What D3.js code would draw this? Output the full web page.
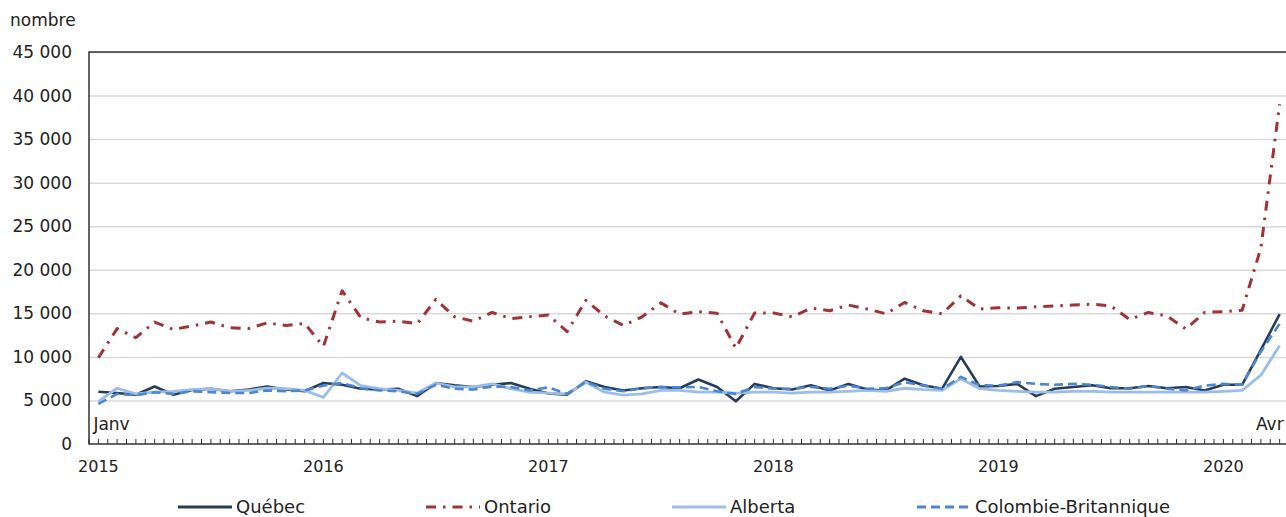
<!DOCTYPE html>
<html>
<head>
<meta charset="utf-8">
<script src="https://cdn.jsdelivr.net/npm/d3@7"></script>
<style>
  body { margin: 0; background: #fff; }
  svg text { font-family: Verdana, "DejaVu Sans", sans-serif; fill: #222; }
</style>
</head>
<body>
<svg id="chart" width="1286" height="517"></svg>
<script>
const years = ['2015', '2016', '2017', '2018', '2019', '2020'];
const monthCount = 64;   // janv 2015 .. avr 2020
const yTicks = [0, 5000, 10000, 15000, 20000, 25000, 30000, 35000, 40000, 45000];

const quebec = [
  6000, 5850, 5650, 6600, 5650, 6200, 6350, 6050, 6250, 6600, 6250, 6050,
  7000, 6800, 6350, 6250, 6350, 5500, 7000, 6750, 6550, 6800, 7000, 6350,
  5800, 5650, 7200, 6550, 6150, 6400, 6550, 6400, 7400, 6550, 4900, 6900,
  6400, 6250, 6750, 6150, 6900, 6250, 6150, 7500, 6750, 6350, 10000, 6600,
  6650, 6900, 5500, 6350, 6550, 6750, 6400, 6400, 6650, 6400, 6550, 6150,
  6800, 6800, 10800, 14900
];
const ontario = [
  9900, 13250, 12200, 14000, 13150, 13550, 14000, 13350, 13250, 13900, 13600, 13850,
  11200, 17600, 14500, 14000, 14100, 13800, 16600, 14600, 14100, 15100, 14400, 14600,
  14800, 12900, 16500, 14700, 13600, 14600, 16200, 14900, 15200, 15000, 11000, 15050,
  15050, 14600, 15600, 15300, 15950, 15500, 14950, 16250, 15300, 14950, 17000, 15500,
  15650, 15600, 15750, 15850, 15950, 16050, 15850, 14300, 15100, 14700, 13200, 15100,
  15200, 15350, 22500, 39000
];
const alberta = [
  4900, 6400, 5750, 5950, 6050, 6250, 6350, 6050, 6150, 6400, 6350, 6150,
  5350, 8150, 6700, 6350, 6150, 5850, 7000, 6550, 6550, 6900, 6350, 5950,
  5850, 5750, 7100, 5950, 5600, 5750, 6150, 6150, 5950, 5950, 5850, 5950,
  5950, 5850, 5950, 5950, 6050, 6150, 6050, 6400, 6250, 6150, 7500, 6350,
  6150, 6050, 5950, 5950, 6050, 6050, 5950, 5950, 5950, 5950, 5950, 5950,
  6050, 6150, 7900, 11300
];
const colombie = [
  4600, 5750, 5600, 5950, 5750, 6050, 5950, 5850, 5850, 6150, 6050, 6150,
  6700, 7000, 6400, 6150, 6050, 5750, 6800, 6350, 6250, 6600, 6550, 6150,
  6500, 5750, 7100, 6350, 6050, 6400, 6550, 6500, 6550, 6050, 5750, 6550,
  6350, 6350, 6550, 6350, 6700, 6350, 6400, 7100, 6700, 6350, 7700, 6750,
  6700, 7100, 6900, 6800, 6900, 6800, 6550, 6350, 6650, 6350, 6150, 6700,
  6900, 6800, 10600, 13800
];

const series = [
  { name: 'Québec', values: quebec, color: '#253d5b', width: 2.6, dash: null, legendX: 178 },
  { name: 'Ontario', values: ontario, color: '#a03336', width: 3, dash: '10,7,2.5,7', legendX: 426 },
  { name: 'Alberta', values: alberta, color: '#9cbde6', width: 2.8, dash: null, legendX: 672 },
  { name: 'Colombie-Britannique', values: colombie, color: '#4a86d4', width: 2.6, dash: '9,5', legendX: 917 }
];

const margin = { left: 89, top: 52, bottom: 444, right: 1289 };

// categories: index of each month
const months = d3.range(monthCount);

const svg = d3.select('#chart');

const x = d3.scaleBand()
            .domain(months)
            .range([margin.left, margin.right]);
const cx = i => x(i) + x.bandwidth() / 2;

const y = d3.scaleLinear()
            .domain([0, 45000])
            .range([margin.bottom, margin.top]);

// gridlines
svg.append('g')
   .attr('transform', `translate(${margin.left},0)`)
   .call(d3.axisLeft(y).tickValues(yTicks.slice(1)).tickSize(-(margin.right - margin.left)).tickFormat(''))
   .call(g => g.select('.domain').remove())
   .call(g => g.selectAll('line').attr('stroke', '#d9d9d9').attr('stroke-width', 1.5));

// y labels
svg.append('g')
   .attr('transform', `translate(${margin.left},0)`)
   .call(d3.axisLeft(y).tickValues(yTicks).tickSize(0).tickPadding(17)
           .tickFormat(d => d3.format(',')(d).replace(/,/g, ' ')))
   .call(g => g.select('.domain').remove())
   .call(g => g.selectAll('text').attr('font-size', 17).attr('fill', '#222')
                .style('font-family', 'Verdana, "DejaVu Sans", sans-serif'));

svg.append('text')
   .attr('x', 10).attr('y', 26)
   .attr('font-size', 17)
   .text('nombre');

// lines
const line = d3.line()
               .x((d, i) => cx(i))
               .y(d => y(d));

series.forEach(s => {
  svg.append('path')
     .datum(s.values)
     .attr('fill', 'none')
     .attr('stroke', s.color)
     .attr('stroke-width', s.width)
     .attr('stroke-dasharray', s.dash)
     .attr('stroke-linejoin', 'round')
     .attr('d', line);
});

// frame
svg.append('path')
   .attr('d', `M${margin.right},${margin.top}H${margin.left}V${margin.bottom}H${margin.right}`)
   .attr('fill', 'none')
   .attr('stroke', '#333')
   .attr('stroke-width', 1.5);

// minor ticks: month centres and month boundaries
const bottomAxis = svg.append('g').attr('transform', `translate(0,${margin.bottom})`);
bottomAxis.call(d3.axisBottom(x).tickSize(-5).tickFormat(''))
          .call(g => g.select('.domain').remove())
          .call(g => g.selectAll('line').attr('stroke', '#333'));
bottomAxis.selectAll('.bound')
          .data(months)
          .enter()
          .append('line')
          .attr('x1', d => x(d)).attr('x2', d => x(d))
          .attr('y1', 0).attr('y2', -5)
          .attr('stroke', '#333');

// year labels
const janv = months.filter(i => i % 12 === 0);
svg.append('g')
   .attr('transform', `translate(0,${margin.bottom})`)
   .call(d3.axisBottom(x).tickValues(janv).tickSize(0).tickPadding(17)
           .tickFormat(i => years[i / 12]))
   .call(g => g.select('.domain').remove())
   .call(g => g.selectAll('text').attr('font-size', 16).attr('fill', '#222')
                .style('font-family', 'Verdana, "DejaVu Sans", sans-serif'));

// Janv / Avr
svg.append('text')
   .attr('x', cx(0) - 5).attr('y', 430)
   .attr('font-size', 17)
   .text('Janv');
svg.append('text')
   .attr('x', cx(monthCount - 1) + 4).attr('y', 430)
   .attr('text-anchor', 'end')
   .attr('font-size', 17)
   .text('Avr');

// legend
const legend = svg.append('g').attr('transform', 'translate(0,507)');
series.forEach(s => {
  legend.append('line')
        .attr('x1', s.legendX).attr('x2', s.legendX + 54)
        .attr('y1', 0).attr('y2', 0)
        .attr('stroke', s.color)
        .attr('stroke-width', 3)
        .attr('stroke-dasharray', s.dash);
  legend.append('text')
        .attr('x', s.legendX + 58).attr('y', 6)
        .attr('font-size', 18)
        .text(s.name);
});
</script>
</body>
</html>
